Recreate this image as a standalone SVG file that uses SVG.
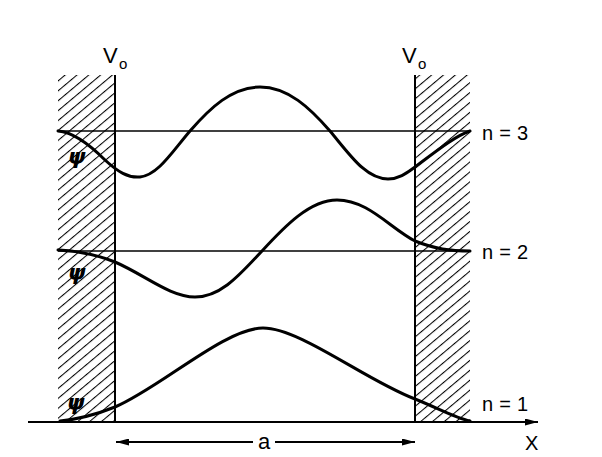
<svg xmlns="http://www.w3.org/2000/svg" width="602" height="457" viewBox="0 0 602 457">
  <style>
    .lbl { font-family: "Liberation Sans", Arial, sans-serif; fill: #000; }
    .psi { font-family: "DejaVu Sans", "Liberation Sans", sans-serif; font-style: italic; font-weight: bold; font-size: 22px; fill: #000; }
    .wave { fill: none; stroke: #000; stroke-width: 3; stroke-linecap: round; stroke-linejoin: round; }
    .level { stroke: #000; stroke-width: 1.6; fill: none; }
    .wall { stroke: #000; stroke-width: 2; fill: none; }
    .axis { stroke: #000; stroke-width: 1.8; fill: none; }
  </style>
  <defs>
    <pattern id="hatch" patternUnits="userSpaceOnUse" width="7.6" height="8" patternTransform="rotate(50)">
      <line x1="0" y1="-1" x2="0" y2="9" stroke="#000" stroke-width="2.1"/>
    </pattern>
    <marker id="arr" viewBox="0 0 13 7" refX="13" refY="3.5" markerWidth="13" markerHeight="7" markerUnits="userSpaceOnUse" orient="auto">
      <path d="M0,0 L13,3.5 L0,7 Z" fill="#000"/>
    </marker>
  </defs>
  <rect width="602" height="457" fill="#fff"/>

  <g id="left-barrier">
    <rect x="58" y="75" width="57" height="347" fill="url(#hatch)"/>
    <line class="wall" x1="115" y1="75" x2="115" y2="422"/>
    <text class="lbl" x="103" y="63" font-size="22">V</text>
    <text class="lbl" x="119" y="69" font-size="15">o</text>
  </g>
  <g id="right-barrier">
    <rect x="415" y="75" width="55" height="347" fill="url(#hatch)"/>
    <line class="wall" x1="415" y1="75" x2="415" y2="422"/>
    <text class="lbl" x="402" y="63" font-size="22">V</text>
    <text class="lbl" x="418" y="69" font-size="15">o</text>
  </g>

  <g id="level-n3">
    <line class="level" x1="58" y1="131" x2="470" y2="131"/>
    <path class="wave" d="M58,131 C72,132 90,145 105,160 C118,172 128,178 140,177 C158,175 172,152 190,131 C210,108 232,87 260,87 C288,87 310,108 330,131 C350,155 366,179 388,179 C400,179 408,172 415,167 C435,152 455,136 470,131"/>
    <text class="psi" x="68" y="164">ψ</text>
    <text class="lbl" x="482" y="140" font-size="20" textLength="46" lengthAdjust="spacing">n = 3</text>
  </g>

  <g id="level-n2">
    <line class="level" x1="58" y1="251" x2="470" y2="251"/>
    <path class="wave" d="M58,250 C80,251 100,256 115,262 C145,275 170,297 195,297 C222,297 242,272 262,251 C285,226 310,200 337,200 C368,200 390,228 415,241 C435,249 450,251 470,251"/>
    <text class="psi" x="68" y="280">ψ</text>
    <text class="lbl" x="482" y="259" font-size="20" textLength="46" lengthAdjust="spacing">n = 2</text>
  </g>

  <g id="level-n1">
    <path class="wave" d="M60,421 C80,419 100,413 115,407 C160,388 225,328 263,328 C300,328 365,380 415,399 C440,409 455,418 470,421"/>
    <text class="psi" x="67" y="410">ψ</text>
    <text class="lbl" x="482" y="411" font-size="20" textLength="46" lengthAdjust="spacing">n = 1</text>
  </g>

  <g id="connectors">
    <line class="axis" x1="28" y1="422" x2="538" y2="422" marker-end="url(#arr)"/>
    <line class="axis" x1="253" y1="442" x2="116" y2="442" marker-end="url(#arr)"/>
    <line class="axis" x1="275" y1="442" x2="415" y2="442" marker-end="url(#arr)"/>
  </g>

  <g id="labels">
    <text class="lbl" x="264" y="449" font-size="22" text-anchor="middle">a</text>
    <text class="lbl" x="525" y="450" font-size="20">X</text>
  </g>
</svg>
